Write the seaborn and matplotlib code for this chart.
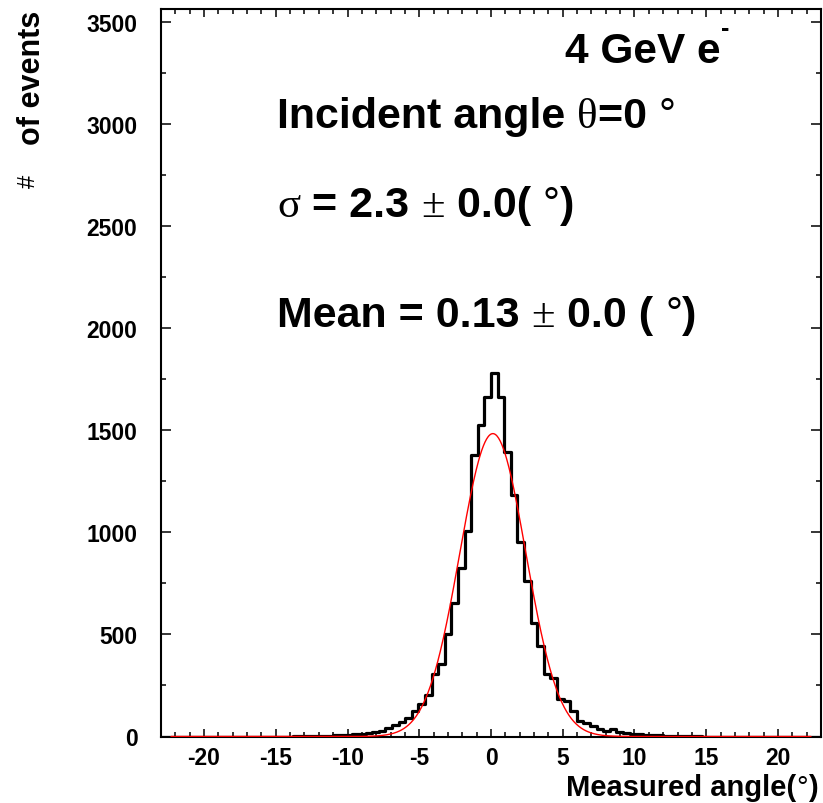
import numpy as np
import pandas as pd
import matplotlib
matplotlib.use("Agg")
import matplotlib.pyplot as plt
import seaborn as sns
from matplotlib.ticker import MultipleLocator

# ---------------- data ----------------
x_min, x_max, n_bins = -23.0, 23.0, 100
counts = ([0] * 20 +
          [1, 1, 2, 2, 3, 4, 5, 7, 9, 12,
           14, 17, 22, 28, 40, 56, 72, 89, 123, 159,
           203, 305, 354, 504, 655, 827, 1005, 1379, 1525, 1660,
           1779, 1660, 1391, 1183, 952, 761, 558, 444, 305, 286,
           183, 175, 126, 77, 66, 50, 35, 28, 37, 23,
           16, 14, 10, 9, 7, 5, 4, 3, 2, 2,
           1, 1] +
          [0] * 18)
fit_amplitude = 1483.0
fit_mean = 0.13
fit_sigma = 2.3
fit_range = (-22.3, 22.3)

energy_label = "4 GeV e"
xticks = [-20, -15, -10, -5, 0, 5, 10, 15, 20]
yticks = [0, 500, 1000, 1500, 2000, 2500, 3000, 3500]

# ---------------- style ----------------
sns.set_style("ticks")
plt.rcParams['font.family'] = ['Liberation Sans', 'DejaVu Sans']
plt.rcParams['font.weight'] = 'bold'
plt.rcParams['axes.unicode_minus'] = False
for k in ['text.color', 'axes.labelcolor', 'xtick.color', 'ytick.color',
          'xtick.labelcolor', 'ytick.labelcolor', 'axes.edgecolor']:
    plt.rcParams[k] = 'black'

W, H, DPI = 823, 804, 100
fig = plt.figure(figsize=(W / DPI, H / DPI), dpi=DPI)
L, R, T, B = 161, 821, 10, 737.5
ax = fig.add_axes([L / W, 1 - B / H, (R - L) / W, (B - T) / H])

bin_edges = np.linspace(x_min, x_max, n_bins + 1)
centers = 0.5 * (bin_edges[:-1] + bin_edges[1:])
df = pd.DataFrame({"angle": centers, "events": counts})
sns.histplot(data=df, x="angle", weights="events", bins=n_bins, binrange=(x_min, x_max),
             element="step", fill=False, color="black", linewidth=2.3, ax=ax)

xs = np.linspace(fit_range[0], fit_range[1], 800)
ys = fit_amplitude * np.exp(-0.5 * ((xs - fit_mean) / fit_sigma) ** 2)
sns.lineplot(x=xs, y=ys, color="red", linewidth=1.0, ax=ax, zorder=3)

ax.set_xlim(x_min, x_max)
ax.set_ylim(0, 3562)
ax.set_xticks(xticks)
ax.set_yticks(yticks)
ax.xaxis.set_minor_locator(MultipleLocator(1))
ax.yaxis.set_minor_locator(MultipleLocator(250))
ax.set_xlabel("")
ax.set_ylabel("")
for s in ax.spines.values():
    s.set_visible(True)
    s.set_linewidth(1.5)
    s.set_color("black")
ax.tick_params(which="both", direction="in", top=True, right=True,
               width=1.1, color="black", labelcolor="black")
ax.tick_params(axis="x", which="major", length=6, pad=7, labelsize=16.5)
ax.tick_params(axis="y", which="major", length=7, pad=17, labelsize=16.5)
ax.tick_params(which="minor", length=3.5)

renderer = fig.canvas.get_renderer()


def text_width(s, fam, weight, size):
    t1 = fig.text(0, 0, "|" + s + "|", fontfamily=fam, fontweight=weight, fontsize=size)
    t2 = fig.text(0, 0, "||", fontfamily=fam, fontweight=weight, fontsize=size)
    w = t1.get_window_extent(renderer).width - t2.get_window_extent(renderer).width
    t1.remove()
    t2.remove()
    return w


def draw_runs(x_px, base_px, runs, align="left"):
    widths = [text_width(s, fam, wt, sz) for s, fam, wt, sz, dy in runs]
    x = x_px - sum(widths) if align == "right" else x_px
    for (s, fam, wt, sz, dy), w in zip(runs, widths):
        fig.text(x / W, 1 - (base_px + dy) / H, s, fontfamily=fam, fontweight=wt,
                 fontsize=sz, ha="left", va="baseline", color="black")
        x += w


SANS = ["Liberation Sans", "DejaVu Sans"]
SERIF = ["Liberation Serif", "DejaVu Serif"]
FS = 31

draw_runs(565, 63, [(energy_label, SANS, "bold", 30.5, 0),
                    ("-", SANS, "bold", 18, -27)])
draw_runs(277, 128, [("Incident angle ", SANS, "bold", FS, 0),
                     ("\u03b8", SERIF, "normal", FS, 0),
                     ("=0 ", SANS, "bold", FS, 0),
                     ("\u00b0", SANS, "normal", FS, 0)])
draw_runs(277, 217, [("\u03c3", SERIF, "normal", FS, 0),
                     (" = 2.3 ", SANS, "bold", FS, 0),
                     ("\u00b1", SERIF, "normal", FS, 0),
                     (" 0.0( ", SANS, "bold", FS, 0),
                     ("\u00b0", SANS, "normal", FS, 0),
                     (")", SANS, "bold", FS, 0)])
draw_runs(277, 327, [("Mean = 0.13 ", SANS, "bold", FS, 0),
                     ("\u00b1", SERIF, "normal", FS, 0),
                     (" 0.0 ( ", SANS, "bold", FS, 0),
                     ("\u00b0", SANS, "normal", FS, 0),
                     (")", SANS, "bold", FS, 0)])

# axis titles
draw_runs(818, 796, [("Measured angle(", SANS, "bold", 21, 0),
                     ("\u00b0", SANS, "normal", 21, 0),
                     (")", SANS, "bold", 21, 0)], align="right")
fig.text(32 / W, 1 - 11 / H, "of events", rotation=90, ha="center", va="top",
         fontsize=22, fontweight="bold", fontfamily=SANS, color="black")
fig.text(29 / W, 1 - 181 / H, "#", rotation=90, ha="center", va="center",
         fontsize=17, fontweight="normal", fontfamily=SANS, color="black")

fig.savefig("out.png", dpi=DPI)
